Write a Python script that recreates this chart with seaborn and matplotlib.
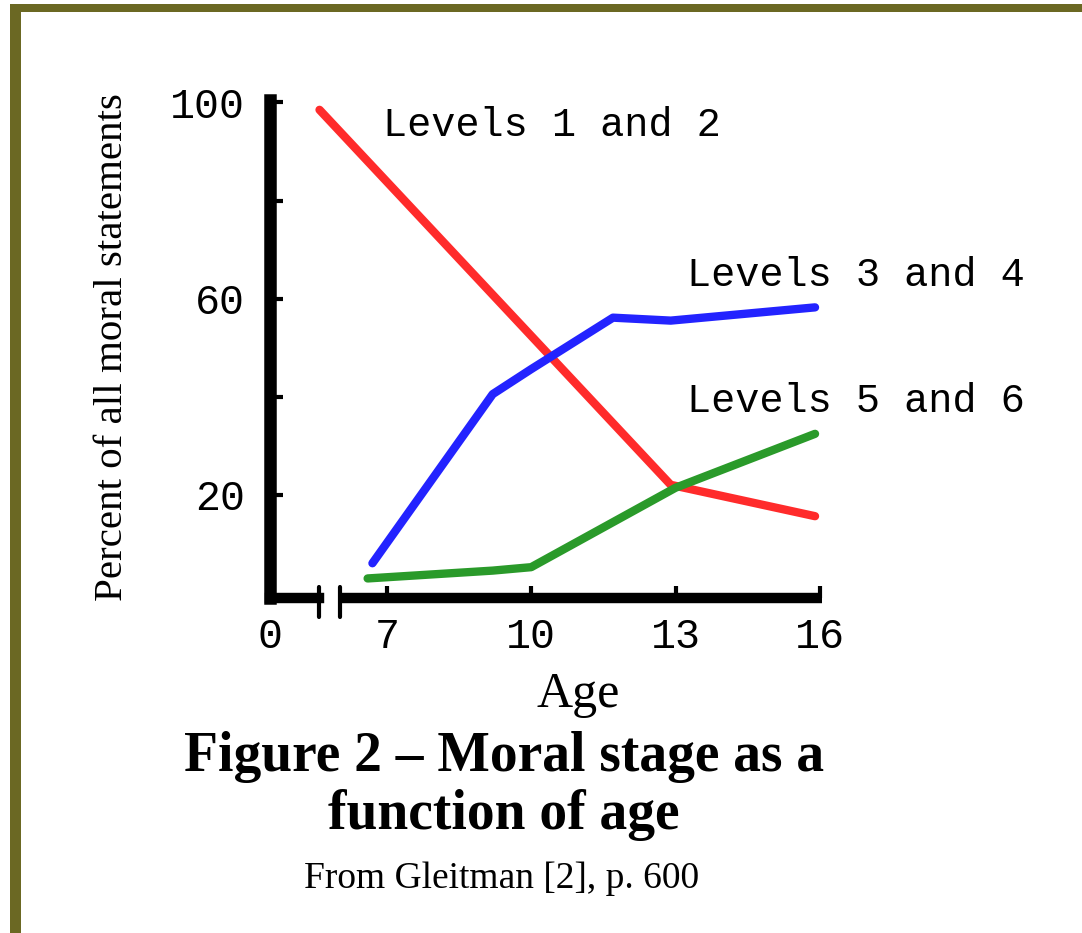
import pandas as pd
import matplotlib.pyplot as plt
import seaborn as sns
from matplotlib.patches import Rectangle

# values (age, percent)
age_12 = [5.6, 12.9, 15.9]
pct_12 = [98.5, 22.0, 15.6]
age_34 = [6.7, 9.2, 10.0, 11.7, 12.9, 15.9]
pct_34 = [6.0, 40.5, 45.6, 56.1, 55.5, 58.2]
age_56 = [6.6, 9.2, 10.0, 13.0, 15.9]
pct_56 = [2.9, 4.5, 5.2, 21.4, 32.4]

series = ['Levels 1 and 2', 'Levels 3 and 4', 'Levels 5 and 6']
colors = ['#ff2b2b', '#2323ff', '#2a9a2a']
ytick_vals = [20, 40, 60, 80, 100]
ytick_labels = ['20', '', '60', '', '100']
xtick_vals = [7, 10, 13, 16]
xtick_labels = ['7', '10', '13', '16']

df = pd.concat([
    pd.DataFrame({'Age': age_12, 'Percent': pct_12, 'Level': series[0]}),
    pd.DataFrame({'Age': age_34, 'Percent': pct_34, 'Level': series[1]}),
    pd.DataFrame({'Age': age_56, 'Percent': pct_56, 'Level': series[2]}),
])

sns.set_style('white')
plt.rcParams['font.family'] = ['Liberation Serif', 'DejaVu Serif']
plt.rcParams['text.color'] = 'black'
plt.rcParams['axes.labelcolor'] = 'black'
plt.rcParams['xtick.color'] = 'black'
plt.rcParams['ytick.color'] = 'black'

fig = plt.figure(figsize=(10.82, 9.33), dpi=100)
ax = fig.add_axes([0.2495, 0.359, 0.510, 0.5338])

sns.lineplot(data=df, x='Age', y='Percent', hue='Level', palette=colors,
             sort=False, legend=False, linewidth=6, ax=ax)

x0, x1 = 4.57, 16.04
y0 = -1.1
ax.set_xlim(x0, x1)
ax.set_ylim(y0, 100.5)

# axis styling
for s in ['top', 'right', 'bottom']:
    ax.spines[s].set_visible(False)
ax.spines['left'].set_linewidth(9)
ax.spines['left'].set_color('black')

# broken x axis
b1, b2 = 5.59, 6.03
ax.plot([x0, b1], [y0, y0], color='black', lw=7.5, clip_on=False, solid_capstyle='projecting')
ax.plot([b2, x1], [y0, y0], color='black', lw=7.5, clip_on=False, solid_capstyle='butt')
for b in [b1, b2]:
    ax.plot([b, b], [1.2, -5.0], color='black', lw=3, clip_on=False)

ax.set_yticks(ytick_vals)
ax.set_yticklabels(ytick_labels)
ax.set_xticks([x0] + xtick_vals)
ax.set_xticklabels(['0'] + xtick_labels)
ax.tick_params(axis='both', direction='in', length=9, width=3, color='black',
               labelsize=30, left=True, bottom=True)
ax.tick_params(axis='y', pad=18)
ax.tick_params(axis='x', pad=14)
for lab in ax.get_xticklabels() + ax.get_yticklabels():
    lab.set_family('Liberation Mono')

ax.set_xlabel('Age', fontsize=36)
ax.xaxis.set_label_coords(0.558, -0.148)
ax.set_ylabel('Percent of all moral statements', fontsize=29.5)
ax.yaxis.set_label_coords(-0.252, 0.504)

# line labels
ax.text(6.92, 95.5, series[0], fontsize=29, family='Liberation Mono', va='center', clip_on=False)
ax.text(13.24, 64.9, series[1], fontsize=29, family='Liberation Mono', va='center', clip_on=False)
ax.text(13.24, 39.1, series[2], fontsize=29, family='Liberation Mono', va='center', clip_on=False)

# caption
fig.text(0.466, 1 - 757 / 933, 'Figure 2 \u2013 Moral stage as a', ha='center', va='center',
         fontsize=40, fontweight='bold')
fig.text(0.466, 1 - 815 / 933, 'function of age', ha='center', va='center',
         fontsize=40, fontweight='bold')
fig.text(0.464, 1 - 879 / 933, 'From Gleitman [2], p. 600', ha='center', va='center', fontsize=27)

# olive frame
fig.add_artist(Rectangle((10 / 1082, 0), 11 / 1082, 1 - 4 / 933, transform=fig.transFigure,
                         color='#6b6823', lw=0))
fig.add_artist(Rectangle((10 / 1082, 1 - 12 / 933), 1, 8 / 933, transform=fig.transFigure,
                         color='#6b6823', lw=0))

fig.savefig('out.png', dpi=100)
